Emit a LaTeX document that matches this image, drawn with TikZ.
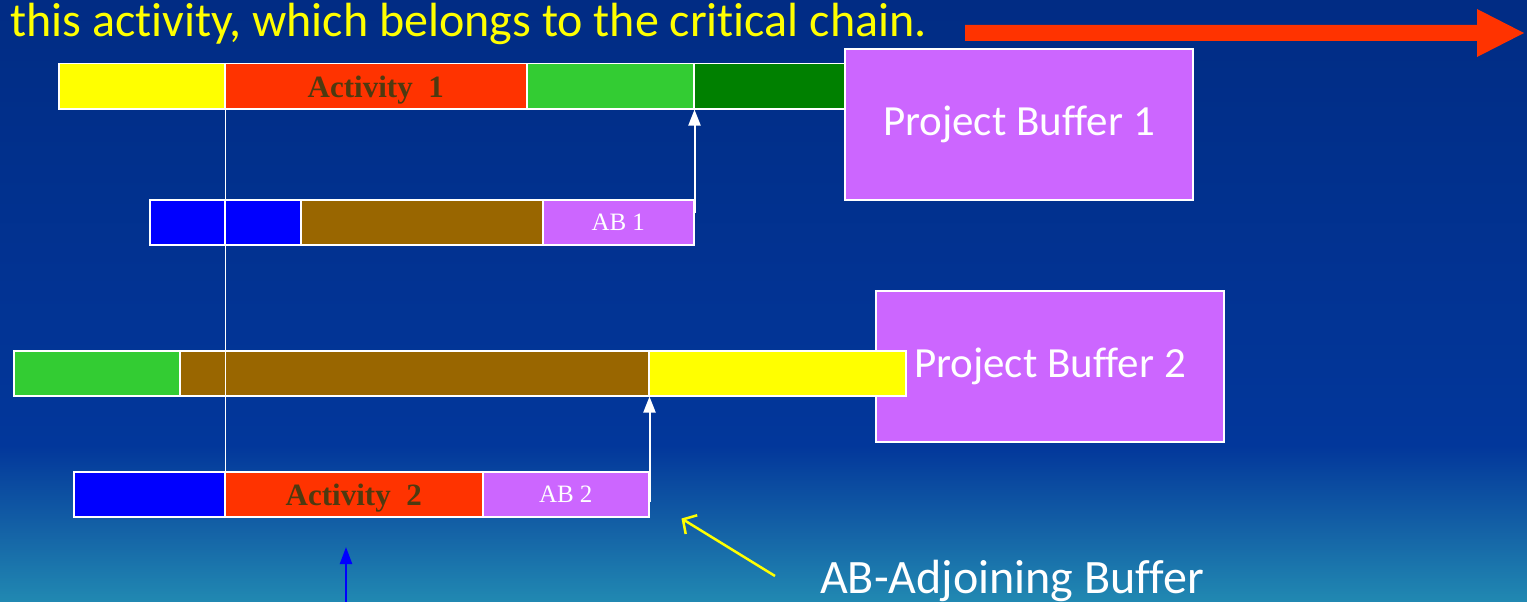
\documentclass[tikz,border=0pt]{standalone}
\usepackage{fontspec}
\setmainfont{Carlito}[Ligatures={NoCommon}]
\newfontfamily\timesf{Liberation Serif}
\usetikzlibrary{arrows.meta}
\definecolor{bgtop}{HTML}{012C84}
\definecolor{bgmid}{HTML}{02379B}
\definecolor{bgmidb}{HTML}{1462A6}
\definecolor{bgbot}{HTML}{2189B2}
\definecolor{cyellow}{HTML}{FFFF00}
\definecolor{cred}{HTML}{FF3300}
\definecolor{cgreen}{HTML}{33CC33}
\definecolor{cdgreen}{HTML}{008000}
\definecolor{cblue}{HTML}{0000FF}
\definecolor{cbrown}{HTML}{996600}
\definecolor{cpurple}{HTML}{CC66FF}
\definecolor{acttext}{HTML}{4E3A10}
\pgfdeclareverticalshading{bgshade}{100bp}{color(0bp)=(bgbot); color(25bp)=(bgbot); color(31bp)=(bgmidb); color(38bp)=(bgmid); color(75bp)=(bgtop); color(100bp)=(bgtop)}
\tikzset{
  cell/.style={draw=white, line width=1.5pt, minimum height=45pt, inner sep=0pt, anchor=north west},
  actlabel/.style={font=\timesf\bfseries\fontsize{31}{31}\selectfont, text=acttext, text depth=0pt},
  ablabel/.style={font=\timesf\fontsize{25}{25}\selectfont, text=white, text depth=0pt},
  pbox/.style={draw=white, line width=1.8pt, fill=cpurple, inner sep=0pt, anchor=north west,
    minimum width=348pt, minimum height=151pt, text=white, font=\fontsize{43}{43}\selectfont},
  conn/.style={draw=white, line width=1.8pt},
  warrow/.style={draw=white, line width=2pt, -{Triangle[width=12pt,length=16pt]}},
  barrow/.style={draw=cblue, line width=2.2pt, -{Triangle[width=12pt,length=17pt]}},
  yarrow/.style={draw=cyellow, line width=2.5pt, -{Straight Barb[length=10pt,width=22pt]}},
}
\begin{document}
\begin{tikzpicture}[x=1pt,y=1pt]
\useasboundingbox (0,0) rectangle (1527,-602);
\shade[shading=bgshade] (0,0) rectangle (1527,-602);
% title
\node[anchor=base west, inner sep=0pt, text=cyellow, font=\fontsize{48}{48}\selectfont] (title) at (10,-37) {this activity, which belongs to the critical chain.};
\fill[cred] (965,-25) -- (1477,-25) -- (1477,-9) -- (1524,-33) -- (1477,-57) -- (1477,-41) -- (965,-41) -- cycle;
% row 1
\node[cell, fill=cyellow, minimum width=166pt] (a1) at (58,-63) {};
\node[cell, fill=cred, minimum width=302pt, actlabel] (a2) at (224,-63) {Activity\ \ 1};
\node[cell, fill=cgreen, minimum width=167pt] (a3) at (526,-63) {};
\node[cell, fill=cdgreen, minimum width=160pt] (a4) at (693,-63) {};
\node[pbox] (pb1) at (844,-48) {Project Buffer 1};
% row 2
\node[cell, fill=cblue, minimum width=75pt] (b1) at (149,-199) {};
\node[cell, fill=cblue, minimum width=76pt] (b2) at (224,-199) {};
\node[cell, fill=cbrown, minimum width=242pt] (b3) at (300,-199) {};
\node[cell, fill=cpurple, minimum width=151pt, ablabel] (b4) at (542,-199) {AB 1};
% row 3
\node[pbox] (pb2) at (875,-290) {Project Buffer 2};
\node[cell, fill=cgreen, minimum width=166pt] (c1) at (13,-350) {};
\node[cell, fill=cbrown, minimum width=469pt] (c2) at (179,-350) {};
\node[cell, fill=cyellow, minimum width=257pt] (c3) at (648,-350) {};
% row 4
\node[cell, fill=cblue, minimum width=151pt] (d1) at (73,-471) {};
\node[cell, fill=cred, minimum width=258pt, actlabel] (d2) at (224,-471) {Activity\ \ 2};
\node[cell, fill=cpurple, minimum width=166pt, ablabel] (d3) at (482,-471) {AB 2};
% connectors
\draw[conn] (a1.south east) -- (d1.north east);
\draw[warrow] ([yshift=-14pt]b4.north east) -- (a3.south east);
\draw[warrow] ([yshift=-31pt]d3.north east) -- (c2.south east);
\coordinate (bstart) at (346,-602);
\coordinate (bend) at (346,-547);
\draw[barrow] (bstart) -- (bend);
\coordinate (ystart) at (775,-576);
\draw[yarrow] (ystart) -- ([xshift=32pt,yshift=-1pt]d3.south east);
\node[anchor=base west, inner sep=0pt, text=white, font=\fontsize{48}{48}\selectfont] (abl) at (820,-593) {AB-Adjoining Buffer};
\end{tikzpicture}
\end{document}
